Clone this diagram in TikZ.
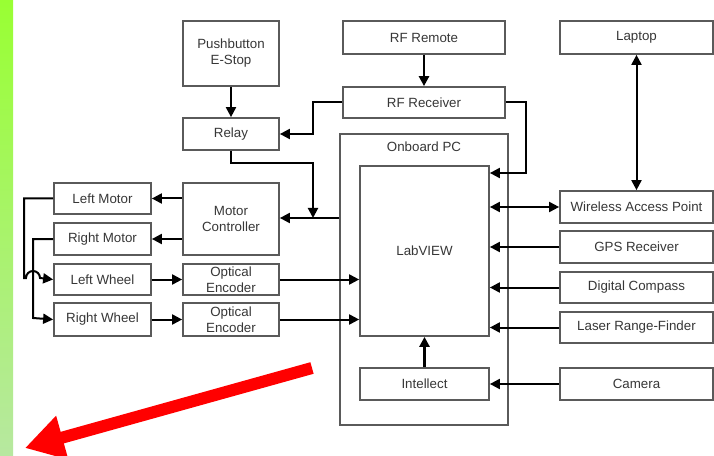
\documentclass[tikz,border=0pt]{standalone}
\usepackage{fontspec}
\setmainfont{Liberation Sans}
\usetikzlibrary{arrows.meta}
\definecolor{bordergray}{RGB}{90,90,90}
\definecolor{textgray}{RGB}{55,55,55}
\definecolor{greentop}{RGB}{153,255,51}
\definecolor{greenbot}{RGB}{183,232,160}
\definecolor{redarrow}{RGB}{255,0,0}
\newcommand{\mybox}[6]{\node[boxst, minimum width={(#4-#2)*0.75pt}, minimum height={(#5-#3)*0.75pt}] (#1) at ({(#2+#4)/2},{(#3+#5)/2}) {#6};}
\tikzset{
  boxst/.style={draw=bordergray, line width=1.3pt, inner sep=0pt, align=center, fill=white,
    font=\fontsize{10}{12}\selectfont, text=textgray},
  lbl/.style={inner sep=0pt, font=\fontsize{10}{12}\selectfont, text=textgray},
  conn/.style={line width=1.5pt, -{Triangle[length=7.5pt,width=7.5pt]}},
  biconn/.style={line width=1.5pt, {Triangle[length=7.5pt,width=7.5pt]}-{Triangle[length=7.5pt,width=7.5pt]}},
  bigarrow/.style={draw=redarrow, line width=9pt, -{Triangle[length=29pt,width=32pt]}}
}
\begin{document}
\begin{tikzpicture}[x=0.75pt,y=-0.75pt]
\useasboundingbox (0,0) rectangle (714,456);
\fill[white] (0,0) rectangle (714,456);
\shade[top color=greentop, bottom color=greenbot] (0,0) rectangle (13,456);

% Onboard PC container
\mybox{onboard}{340}{134}{508}{425}{}
\node[lbl] (pclabel) at (424,147) {Onboard PC};
\mybox{labview}{360}{166}{489}{336}{LabVIEW}
\mybox{intellect}{360}{368}{489}{400}{Intellect}

% left column
\mybox{estop}{183}{21}{279}{86}{Pushbutton\\E-Stop}
\mybox{relay}{183}{118}{279}{150}{Relay}
\mybox{motorctl}{183}{183}{279}{255}{Motor\\Controller}
\mybox{enc1}{183}{264}{279}{295}{Optical\\Encoder}
\mybox{enc2}{183}{303}{279}{336}{Optical\\Encoder}
\mybox{lmotor}{54}{183}{151}{214}{Left Motor}
\mybox{rmotor}{54}{223}{151}{255}{Right Motor}
\mybox{lwheel}{54}{264}{151}{295}{Left Wheel}
\mybox{rwheel}{54}{303}{151}{336}{Right Wheel}

% top middle
\mybox{rfremote}{343}{21}{505}{54}{RF Remote}
\mybox{rfrecv}{343}{87}{505}{118}{RF Receiver}

% right column
\mybox{laptop}{560}{21}{713}{54}{Laptop}
\mybox{wap}{560}{191}{713}{223}{Wireless Access Point}
\mybox{gps}{560}{231}{713}{263}{GPS Receiver}
\mybox{compass}{560}{272}{713}{303}{Digital Compass}
\mybox{laser}{560}{312}{713}{343}{Laser Range-Finder}
\mybox{camera}{560}{368}{713}{400}{Camera}

% junction coordinates
\coordinate (j1) at (313,134);
\coordinate (j2) at (526,173);
\coordinate (j3) at (313,163);
\coordinate (j4) at (313,218);
\coordinate (lm2) at (24,278);
\coordinate (hopA) at (26,278);
\coordinate (rm2) at (33,318);
\coordinate (rtail) at (312,368);
\coordinate (rtip) at (25,448);

% connectors
\draw[conn] (estop) -- (relay);
\draw[conn, line width=2.2pt] (rfremote) -- (rfrecv);
\draw[conn] (rfrecv.west) -| (j1) -- (relay.east);
\draw[conn] (rfrecv.east) -| (j2) -- (j2 -| labview.east);
\draw[conn] (onboard.west |- j4) -- (motorctl.east |- j4);
\draw[conn] (relay.south) |- (j3) -- (j4);
\draw[conn] (motorctl.west |- lmotor) -- (lmotor.east);
\draw[conn] (motorctl.west |- rmotor) -- (rmotor.east);
\draw[conn] (rmotor.west) -| (rm2) -- (rwheel.west);
\draw[conn] (lmotor.west) -| (lm2) -- (hopA) arc[start angle=180, end angle=0, radius=5.25pt] -- (lwheel.west);
\draw[conn] (lwheel) -- (enc1);
\draw[conn] (rwheel) -- (enc2);
\draw[conn] (enc1.east) -- (enc1.east -| labview.west);
\draw[conn] (enc2.east) -- (enc2.east -| labview.west);
\draw[biconn] (laptop) -- (wap);
\draw[biconn] (wap.west) -- (wap.west -| labview.east);
\draw[conn] (gps.west) -- (gps.west -| labview.east);
\draw[conn] (compass.west) -- (compass.west -| labview.east);
\draw[conn] (laser.west) -- (laser.west -| labview.east);
\draw[conn] (camera) -- (intellect);
\draw[conn, line width=2.2pt] (intellect) -- (labview);

% red arrow
\draw[bigarrow] (rtail) -- (rtip);
\end{tikzpicture}
\end{document}
